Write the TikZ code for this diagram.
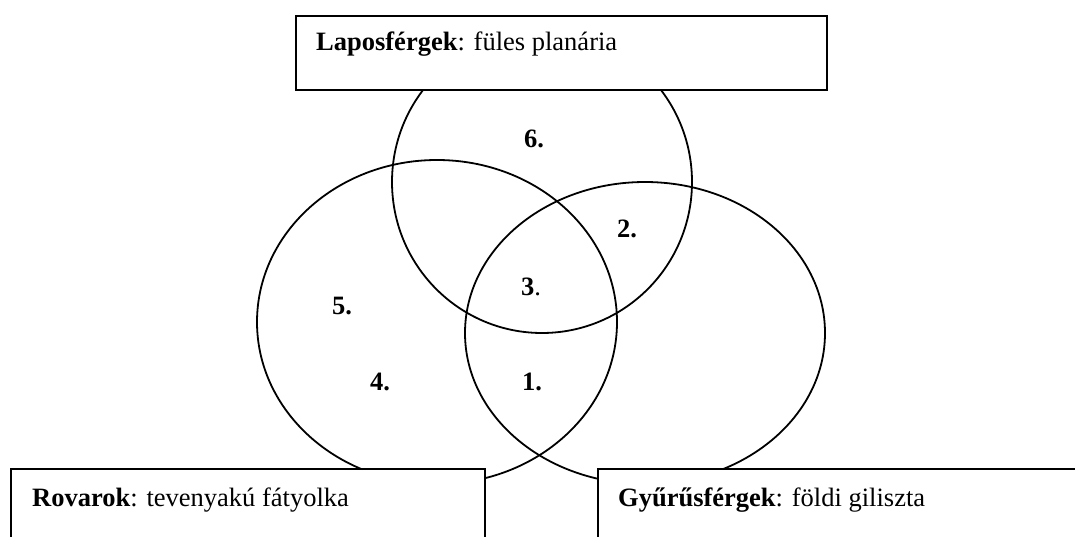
\documentclass[tikz,border=0pt]{standalone}
\usepackage{fontspec}
\setmainfont{Liberation Serif}
\begin{document}
\begin{tikzpicture}[x=1pt,y=-1pt,
  circ/.style={draw=black,line width=1.8pt},
  labelbox/.style={draw=black,fill=white,line width=2.2pt,anchor=north west,inner sep=0pt},
  boxtext/.style={anchor=base west,inner sep=0pt,font=\fontsize{26.5}{30}\selectfont},
  num/.style={inner sep=0pt,font=\fontsize{26.5}{30}\selectfont\bfseries}]
\clip (0,0) rectangle (1075,537);
\fill[white] (0,0) rectangle (1075,537);
% circles
\draw[circ] (542,182) ellipse [x radius=150, y radius=151];
\draw[circ] (437,322) ellipse [x radius=180, y radius=162];
\draw[circ] (645,333) ellipse [x radius=180, y radius=151];
% boxes
\node[labelbox,minimum width=531pt,minimum height=74pt] (lapos) at (295,15) {};
\node[labelbox,minimum width=474pt,minimum height=90pt] (rovar) at (10,468) {};
\node[labelbox,minimum width=500pt,minimum height=90pt] (gyuru) at (597,468) {};
% texts
\node[boxtext] (tlapos) at (316,51) {\textbf{Laposférgek}: füles planária};
\node[boxtext] (trovar) at (32,506) {\textbf{Rovarok}: tevenyakú fátyolka};
\node[boxtext] (tgyuru) at (618,506) {\textbf{Gyűrűsférgek}: földi giliszta};
% region numbers
\node[num] (n6) at (534,139) {6.};
\node[num] (n2) at (627,229) {2.};
\node[num] (n3) at (531,287) {3\mdseries.};
\node[num] (n5) at (342,306) {5.};
\node[num] (n4) at (380,382) {4.};
\node[num] (n1) at (532,382) {1.};
\end{tikzpicture}
\end{document}
